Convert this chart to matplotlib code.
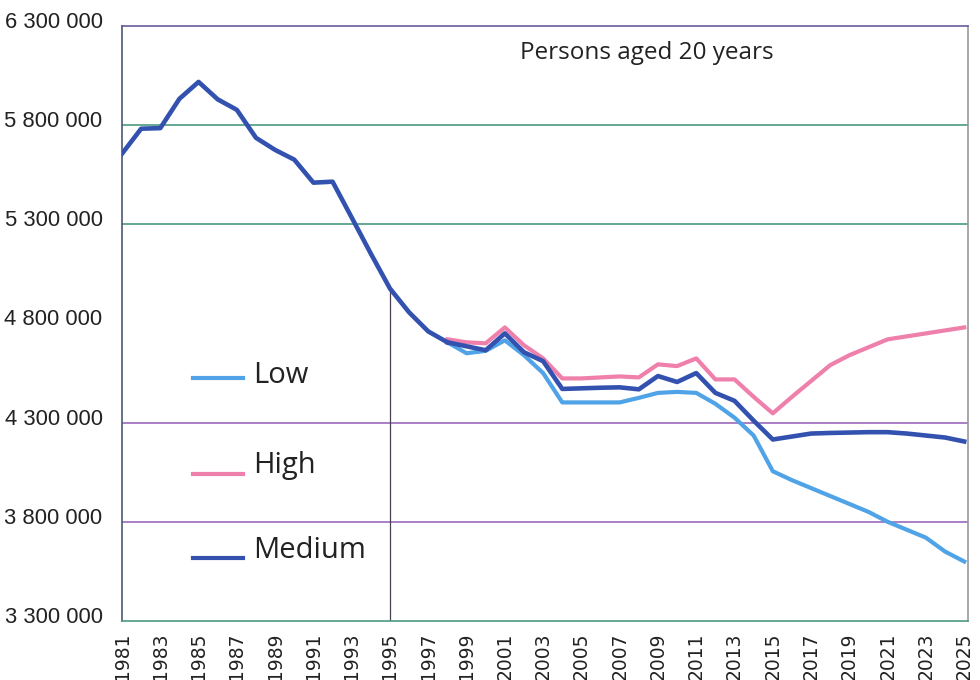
import numpy as np
import matplotlib
matplotlib.use('Agg')
import matplotlib.pyplot as plt
from matplotlib.transforms import ScaledTranslation

# データ
years_hist = list(range(1981, 1999))
medium_hist = [5656000, 5782000, 5785000, 5933000, 6018000, 5930000, 5877000, 5736000,
               5675000, 5626000, 5510000, 5515000, 5334000, 5152000, 4976000, 4856000,
               4760000, 4705000]

years_proj = list(range(1998, 2026))
medium = [4705000, 4685000, 4665000, 4750000, 4655000, 4610000, 4470000, 4473000,
          4476000, 4478000, 4468000, 4535000, 4505000, 4550000, 4450000, 4410000,
          4310000, 4215000, 4230000, 4245000, 4248000, 4250000, 4252000, 4252000,
          4245000, 4235000, 4225000, 4205000]
low = [4705000, 4650000, 4662000, 4715000, 4640000, 4550000, 4402000, 4402000,
       4402000, 4402000, 4425000, 4450000, 4455000, 4450000, 4395000, 4325000,
       4235000, 4055000, 4010000, 3970000, 3930000, 3890000, 3850000, 3800000,
       3760000, 3720000, 3650000, 3600000]
high = [4720000, 4705000, 4700000, 4780000, 4690000, 4624000, 4523000, 4523000,
        4528000, 4533000, 4528000, 4594000, 4585000, 4624000, 4518000, 4518000,
        4430000, 4347000, 4430000, 4510000, 4590000, 4640000, 4680000, 4720000,
        4735000, 4750000, 4765000, 4780000]

yticks = [3300000, 3800000, 4300000, 4800000, 5300000, 5800000, 6300000]
xticks = list(range(1981, 2026, 2))

c_low = '#4fa3e6'
c_high = '#ef7fab'
c_med = '#3352b0'
c_green = '#4a9a80'
c_purple = '#9a6aba'

fig = plt.figure(figsize=(9.8, 6.8), dpi=100)
ax = fig.add_axes([0.1245, 0.0868, 0.8633, 0.875])

# グリッド線
ax.axhline(5800000, color=c_green, lw=1.2, zorder=1)
ax.axhline(5300000, color=c_green, lw=1.2, zorder=1)
ax.axhline(4300000, color=c_purple, lw=1.2, zorder=1)
ax.axhline(3800000, color=c_purple, lw=1.2, zorder=1)

# 1995年の縦線
ax.vlines(1995, 3300000, medium_hist[years_hist.index(1995)], color='#4a4050', lw=0.9, zorder=1)

ax.plot(years_proj, low, color=c_low, lw=3.0, zorder=3)
ax.plot(years_proj, high, color=c_high, lw=3.0, zorder=3)
ax.plot(years_hist, medium_hist, color=c_med, lw=3.3, zorder=4, solid_joinstyle='round')
ax.plot(years_proj, medium, color=c_med, lw=3.3, zorder=4, solid_joinstyle='round')

ax.set_xlim(1981, 2025.2)
ax.set_ylim(3300000, 6300000)

# 枠線
ax.spines['top'].set_color('#6a5a9a')
ax.spines['bottom'].set_color(c_green)
ax.spines['left'].set_color('#4a5a70')
ax.spines['right'].set_color('#999999')
for s in ax.spines.values():
    s.set_linewidth(1.2)

ax.set_yticks(yticks)
ax.set_yticklabels([f'{v:,}'.replace(',', ' ') for v in yticks],
                   fontsize=15.8, family='Liberation Sans', color='#222222')
ax.set_xticks(xticks)
ax.set_xticklabels([str(y) for y in xticks], rotation=90, fontsize=13.5,
                   family='DejaVu Sans', color='#222222')
ax.tick_params(axis='both', length=0)
ax.tick_params(axis='y', pad=14)
ax.tick_params(axis='x', pad=8)
for lab in ax.get_yticklabels():
    lab.set_transform(lab.get_transform() + ScaledTranslation(0, 6 / 100, fig.dpi_scale_trans))

# タイトル
ax.text(0.62, 0.955, 'Persons aged 20 years', transform=ax.transAxes, ha='center', va='center',
        fontsize=17.5, family='Open Sans', color='#222222')

# 凡例（手書き）
leg = [('Low', c_low, 0.408, 0.400), ('High', c_high, 0.247, 0.248),
       ('Medium', c_med, 0.106, 0.106)]
for name, col, yl, yt in leg:
    ax.plot([0.084, 0.143], [yl, yl], color=col, lw=3.0, transform=ax.transAxes)
    ax.text(0.155, yt, name, transform=ax.transAxes, ha='left', va='baseline',
            fontsize=21, family='Open Sans', color='#222222')

fig.savefig('out.png', dpi=100)
